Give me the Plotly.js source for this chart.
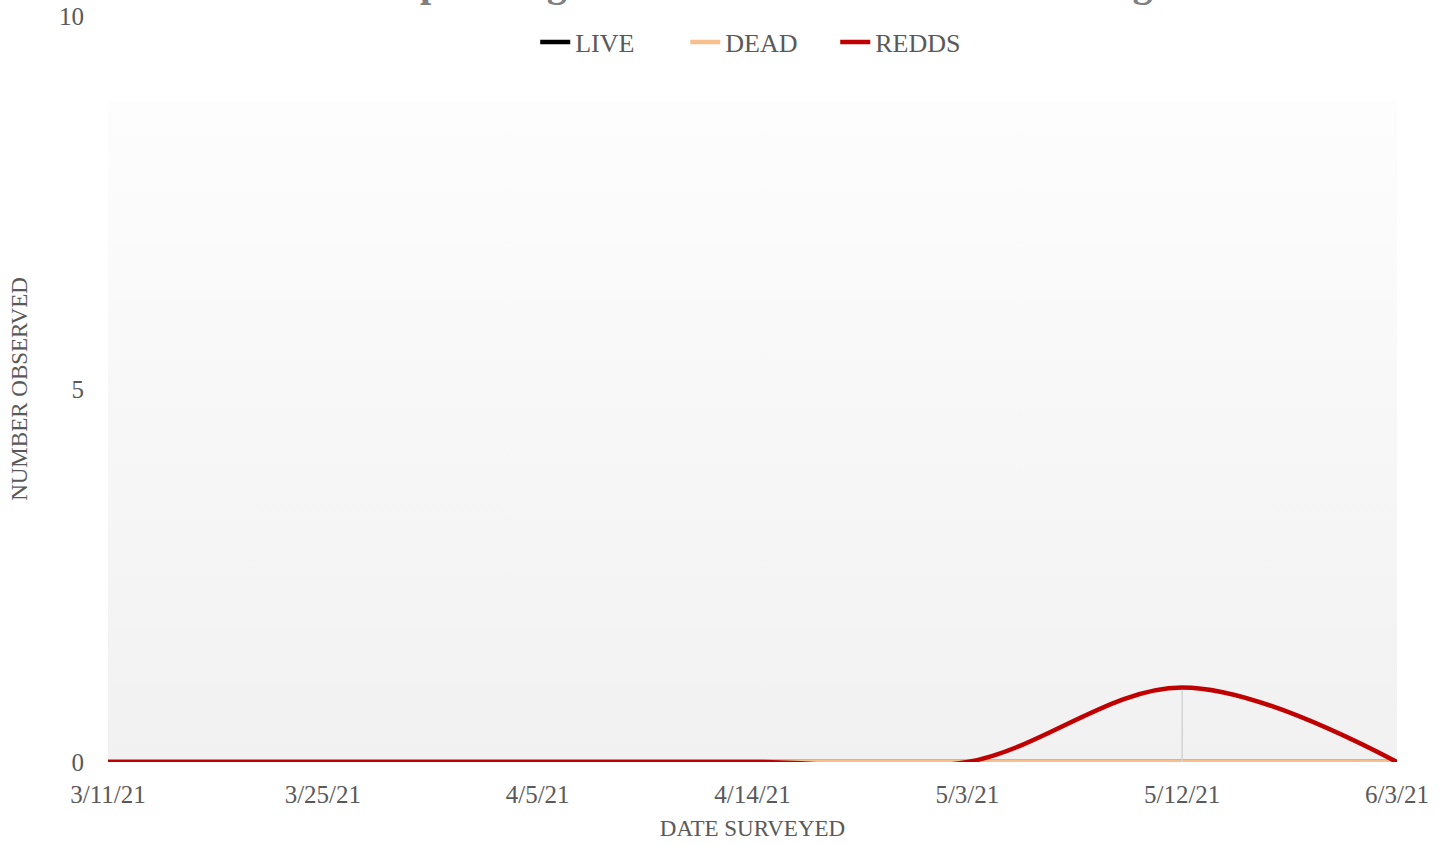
<!DOCTYPE html>
<html>
<head>
<meta charset="utf-8">
<script src="https://cdn.plot.ly/plotly-3.0.1.min.js"></script>
<style>html,body{margin:0;padding:0;background:#fff;}#chart{width:1449px;height:845px;}</style>
</head>
<body>
<div id="chart"></div>
<script>
const dates = ["3/11/21", "3/25/21", "4/5/21", "4/14/21", "5/3/21", "5/12/21", "6/3/21"];
const live  = [0, 0, 0, 0, 0, 0, 0];
const dead  = [0, 0, 0, 0, 0, 0, 0];
const redds = [0, 0, 0, 0, 0, 1, 0];
const yTicks = [0, 5, 10];
const titleText = "Spawning Ground Counts and Redd Timing";

const FONT = "Liberation Serif, Times New Roman, serif";
const GREY = "#595959";

// drop line at the REDDS peak, derived from the data
const peakIdx = redds.indexOf(Math.max(...redds));

const gradSvg = '<svg xmlns="http://www.w3.org/2000/svg" width="10" height="100" preserveAspectRatio="none">' +
  '<defs><linearGradient id="g" x1="0" y1="0" x2="0" y2="1">' +
  '<stop offset="0" stop-color="#fdfdfd"/><stop offset="1" stop-color="#f1f1f1"/></linearGradient></defs>' +
  '<rect width="10" height="100" fill="url(#g)"/></svg>';
const gradSrc = "data:image/svg+xml;base64," + btoa(gradSvg);

const traces = [
  {x: dates, y: live, name: "LIVE", mode: "lines", line: {color: "#000000", width: 4.5, shape: "spline"}},
  {x: dates, y: dead, name: "DEAD", mode: "lines", line: {color: "#f8bf8c", width: 4.5, shape: "spline"}},
  {x: [dates[peakIdx], dates[peakIdx]], y: [0, redds[peakIdx]], mode: "lines",
   line: {color: "#d4d4d4", width: 1.5}, showlegend: false, hoverinfo: "skip"},
  {x: dates, y: redds, name: "REDDS", mode: "lines", line: {color: "#c00000", width: 4.5, shape: "spline"}}
];

const layout = {
  width: 1449, height: 845,
  margin: {l: 108, r: 52, t: 16, b: 83},
  paper_bgcolor: "#ffffff",
  plot_bgcolor: "rgba(0,0,0,0)",
  font: {family: FONT, color: GREY, size: 22},
  title: {text: "<b>" + titleText + "</b>", font: {family: FONT, size: 40, color: "#7f7f7f"},
          x: 0.535, xanchor: "center", yref: "container", y: 1, yanchor: "bottom", pad: {b: 4}},
  showlegend: true,
  legend: {orientation: "h", x: 0.506, xanchor: "center", xref: "paper", y: 0.965, yanchor: "middle",
           entrywidth: 105, entrywidthmode: "pixels",
           font: {family: FONT, size: 26, color: GREY}, bgcolor: "rgba(0,0,0,0)", traceorder: "normal"},
  xaxis: {type: "category", categoryorder: "array", categoryarray: dates,
          range: [0, dates.length - 1], showgrid: false, zeroline: false,
          showline: false, ticks: "outside", ticklen: 10, tickcolor: "rgba(0,0,0,0)",
          tickfont: {family: FONT, size: 25, color: GREY},
          title: {text: "DATE SURVEYED", font: {family: FONT, size: 23, color: GREY}, standoff: 12},
          fixedrange: true},
  yaxis: {range: [0, 10], tickvals: yTicks, ticktext: yTicks.map(String), showgrid: false,
          zeroline: false, showline: false, ticks: "outside", ticklen: 18, tickcolor: "rgba(0,0,0,0)",
          tickfont: {family: FONT, size: 25, color: GREY},
          title: {text: "NUMBER OBSERVED", font: {family: FONT, size: 23, color: GREY}, standoff: 24},
          fixedrange: true},
  images: [{source: gradSrc, xref: "paper", yref: "paper", x: 0, y: 0.886, sizex: 1, sizey: 0.886,
            xanchor: "left", yanchor: "top", sizing: "stretch", layer: "below"}]
};

Plotly.newPlot("chart", traces, layout, {displayModeBar: false, staticPlot: true});
</script>
</body>
</html>
